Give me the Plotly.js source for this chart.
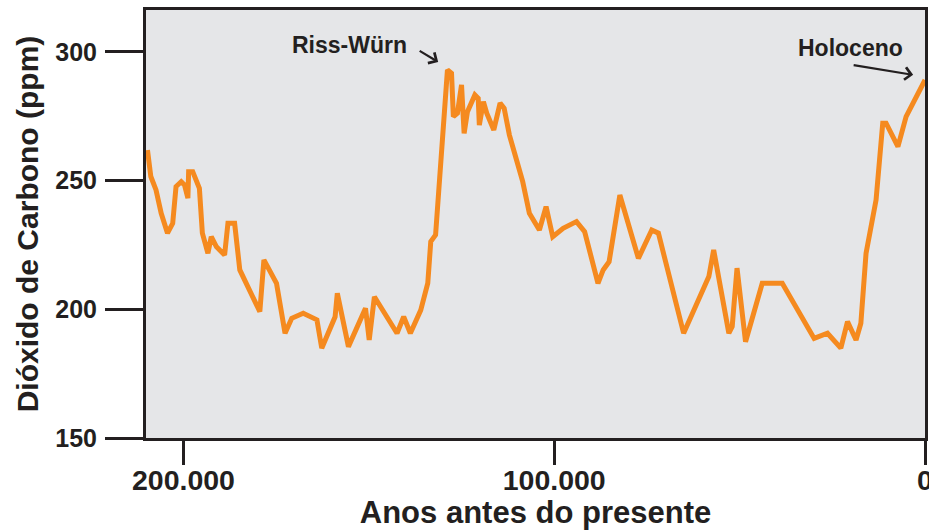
<!DOCTYPE html>
<html>
<head>
<meta charset="utf-8">
<script src="https://cdn.plot.ly/plotly-3.0.1.min.js"></script>
<style>
  html, body { margin: 0; padding: 0; background: #ffffff; }
  #chart { width: 929px; height: 530px; }
</style>
</head>
<body>
<div id="chart"></div>
<script>
// Years before present
const years = [
  209700, 208800, 207400, 206000, 204300, 202900, 202000, 200600, 199700, 198800,
  198600, 197500, 195700, 194900, 193400, 192500, 191100, 188900, 188000, 186200,
  184800, 179400, 178300, 175800, 174900, 172600, 170800, 167700, 164000, 162700,
  160400, 159100, 158500, 155500, 150900, 149900, 148500, 142400, 140600, 138800,
  136000, 134100, 133300, 132000, 128800, 127700, 127200, 126100, 125000, 124300,
  123400, 121400, 120500, 120200, 119100, 118200, 116300, 114600, 113500, 112100,
  110300, 108500, 106700, 104000, 102200, 100400, 97600, 94000, 91800, 88200,
  86800, 85200, 82300, 80000, 77300, 73700, 71900, 65100, 58300, 57000,
  52900, 52000, 50700, 48400, 43900, 38500, 29900, 26300, 22700, 20900,
  18600, 17300, 15900, 13200, 11400, 10500, 7300, 5100, 0
];
// CO2 concentration (ppm)
const co2 = [
  261.9, 251.6, 246.4, 237.3, 229.6, 233.4, 247.7, 249.6, 248.3, 243.2,
  253.5, 253.5, 247.0, 229.6, 221.8, 228.2, 224.3, 221.1, 233.4, 233.4,
  215.3, 199.1, 219.2, 212.7, 210.1, 190.7, 196.5, 198.5, 195.9, 184.9,
  193.3, 197.1, 206.2, 185.5, 200.4, 188.1, 204.9, 190.7, 197.1, 190.7,
  199.7, 210.2, 226.3, 228.9, 293.0, 291.7, 274.9, 276.2, 287.2, 268.4,
  276.8, 283.3, 282.0, 271.6, 280.7, 276.2, 269.7, 280.1, 278.1, 267.8,
  258.7, 249.6, 237.3, 230.8, 239.9, 228.2, 231.5, 234.1, 230.2, 210.1,
  215.3, 218.5, 244.4, 233.4, 219.8, 230.8, 229.6, 190.7, 212.7, 223.1,
  190.7, 193.3, 216.0, 187.4, 210.1, 210.1, 188.7, 190.7, 184.9, 195.2,
  188.1, 194.6, 221.8, 242.5, 272.3, 272.3, 263.2, 274.9, 289.1
];

const xTickVals = [200000, 100000, 0];
const xTickText = ['200.000', '100.000', '0'];
const yTickVals = [150, 200, 250, 300];
const yTickText = ['150', '200', '250', '300'];

const xTitle = 'Anos antes do presente';
const yTitle = 'Dióxido de Carbono (ppm)';
const labelRiss = 'Riss-Würn';
const labelHolo = 'Holoceno';

const ink = '#231f20';
const fontFam = '"Liberation Sans", Arial, sans-serif';

const trace = {
  x: years,
  y: co2,
  type: 'scatter',
  mode: 'lines',
  line: { color: '#f58a1f', width: 5, shape: 'linear' },
  hoverinfo: 'skip'
};

const layout = {
  width: 929,
  height: 530,
  margin: { l: 146, r: 4, t: 10, b: 92 },
  paper_bgcolor: '#ffffff',
  plot_bgcolor: '#e5e6e8',
  showlegend: false,
  font: { family: fontFam, color: ink },
  xaxis: {
    range: [210100, 0],
    tickmode: 'array',
    tickvals: xTickVals,
    ticktext: xTickText,
    ticks: 'outside',
    ticklen: 24,
    tickwidth: 3,
    tickcolor: ink,
    ticklabelstandoff: -9,
    ticklabeloverflow: 'allow',
    showline: true,
    linecolor: ink,
    linewidth: 3,
    mirror: true,
    showgrid: false,
    zeroline: false,
    tickfont: { family: fontFam, size: 28.5, color: ink, weight: 'bold' },
    title: { text: xTitle, font: { family: fontFam, size: 31, color: ink, weight: 'bold' }, standoff: 4 }
  },
  yaxis: {
    range: [150, 316.3],
    tickmode: 'array',
    tickvals: yTickVals,
    ticktext: yTickText,
    ticks: 'outside',
    ticklen: 38,
    tickwidth: 3,
    tickcolor: ink,
    ticklabelstandoff: 3,
    showline: true,
    linecolor: ink,
    linewidth: 3,
    mirror: true,
    showgrid: false,
    zeroline: false,
    tickfont: { family: fontFam, size: 25, color: ink, weight: 'bold' },
    title: { text: yTitle, font: { family: fontFam, size: 30, color: ink, weight: 'bold' }, standoff: 8 }
  },
  annotations: [
    { x: 155300, y: 302.7, xref: 'x', yref: 'y', text: labelRiss, showarrow: false,
      font: { family: fontFam, size: 23, color: ink, weight: 'bold' } },
    { x: 20000, y: 301.6, xref: 'x', yref: 'y', text: labelHolo, showarrow: false,
      font: { family: fontFam, size: 23, color: ink, weight: 'bold' } },
    { x: 131300, y: 296.1, xref: 'x', yref: 'y', text: '', showarrow: true,
      ax: -20, ay: -12, arrowhead: 4, arrowsize: 1.1, arrowwidth: 2.2, arrowcolor: ink },
    { x: 3200, y: 291.1, xref: 'x', yref: 'y', text: '', showarrow: true,
      ax: -61, ay: -10, arrowhead: 4, arrowsize: 1.1, arrowwidth: 2.2, arrowcolor: ink }
  ]
};

Plotly.newPlot('chart', [trace], layout, { displayModeBar: false, staticPlot: true });
</script>
</body>
</html>
